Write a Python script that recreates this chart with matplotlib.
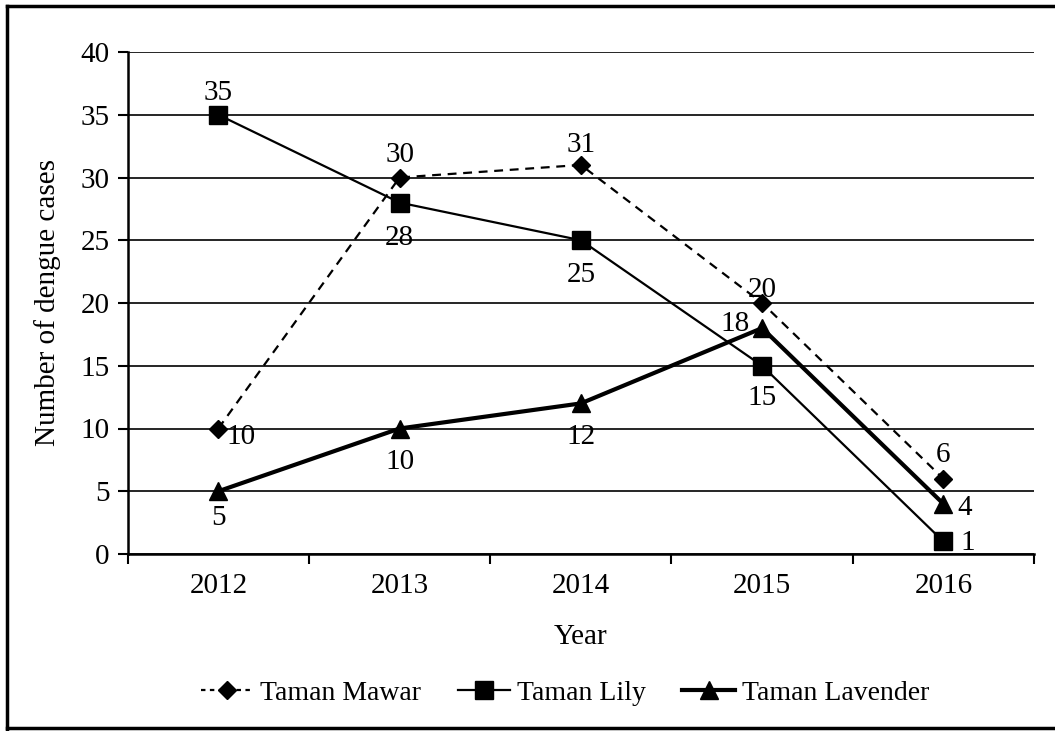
import matplotlib.pyplot as plt
import numpy as np
from matplotlib.lines import Line2D

years = ['2012', '2013', '2014', '2015', '2016']
mawar = [10, 30, 31, 20, 6]
lily = [35, 28, 25, 15, 1]
lavender = [5, 10, 12, 18, 4]

plt.rcParams['font.family'] = ['Liberation Serif', 'DejaVu Serif']
plt.rcParams['font.size'] = 21

fig = plt.figure(figsize=(10.55, 7.31), dpi=100)
ax = fig.add_axes([127.7/1055, 1 - 554/731, (1034 - 127.7)/1055, (554 - 52)/731])

x = np.arange(len(years))
ax.plot(x, mawar, color='black', lw=1.6, ls=(0, (4, 3)), marker='D', ms=9, zorder=4)
ax.plot(x, lily, color='black', lw=1.6, marker='s', ms=13, zorder=4)
ax.plot(x, lavender, color='black', lw=3, marker='^', ms=13, zorder=4)

# value labels: (dx points, dy points, ha, va)
mawar_pos = [(6, -6, 'left', 'center'), (0, 7, 'center', 'bottom'), (0, 5, 'center', 'bottom'),
             (0, 0, 'center', 'bottom'), (0, 8, 'center', 'bottom')]
lily_pos = [(0, 6, 'center', 'bottom'), (0, -16, 'center', 'top'), (0, -16, 'center', 'top'),
            (0, -14, 'center', 'top'), (12, -1, 'left', 'center')]
lav_pos = [(0, -10, 'center', 'top'), (0, -15, 'center', 'top'), (0, -15, 'center', 'top'),
           (-9, 3, 'right', 'center'), (10, -3, 'left', 'center')]
for vals, pos in [(mawar, mawar_pos), (lily, lily_pos), (lavender, lav_pos)]:
    for xi, v, (dx, dy, ha, va) in zip(x, vals, pos):
        ax.annotate(str(v), (xi, v), xytext=(dx, dy), textcoords='offset points',
                    ha=ha, va=va, fontsize=21)

ax.set_xlim(-0.5, 4.5)
ax.set_ylim(0, 40)
ax.set_yticks(range(0, 41, 5))
ax.set_xticks(x)
ax.set_xticklabels(years)
ax.set_xticks(np.arange(-0.5, 5, 1), minor=True)
ax.tick_params(axis='x', which='major', length=0, pad=14)
ax.tick_params(axis='x', which='minor', length=7, width=1.5, direction='out')
ax.tick_params(axis='y', length=7, width=1.5, direction='out', pad=6)
ax.grid(axis='y', color='black', lw=1.2)
for s in ['top', 'right']:
    ax.spines[s].set_visible(False)
ax.spines['left'].set_linewidth(1.8)
ax.spines['bottom'].set_linewidth(1.8)
ax.set_axisbelow(True)

ax.set_xlabel('Year', labelpad=18)
ax.set_ylabel('Number of dengue cases', labelpad=14)

handles = [
    Line2D([], [], color='black', lw=1.6, ls=(0, (2, 2)), marker='D', ms=9),
    Line2D([], [], color='black', lw=1.6, marker='s', ms=13),
    Line2D([], [], color='black', lw=3, marker='^', ms=13),
]
fig.legend(handles, ['Taman Mawar', 'Taman Lily', 'Taman Lavender'], loc='center',
           bbox_to_anchor=(565/1055, 1 - 693/731), ncol=3, frameon=False,
           handlelength=1.9, handletextpad=0.25, columnspacing=1.3, fontsize=20)

# page frame
fig.add_artist(Line2D([0.007, 0.007], [0.003, 0.992], color='black', lw=2.5, transform=fig.transFigure))
fig.add_artist(Line2D([0.007, 1.0], [0.992, 0.992], color='black', lw=2.5, transform=fig.transFigure))
fig.add_artist(Line2D([0.007, 1.0], [0.004, 0.004], color='black', lw=2.5, transform=fig.transFigure))

fig.savefig('out.png', dpi=100)
